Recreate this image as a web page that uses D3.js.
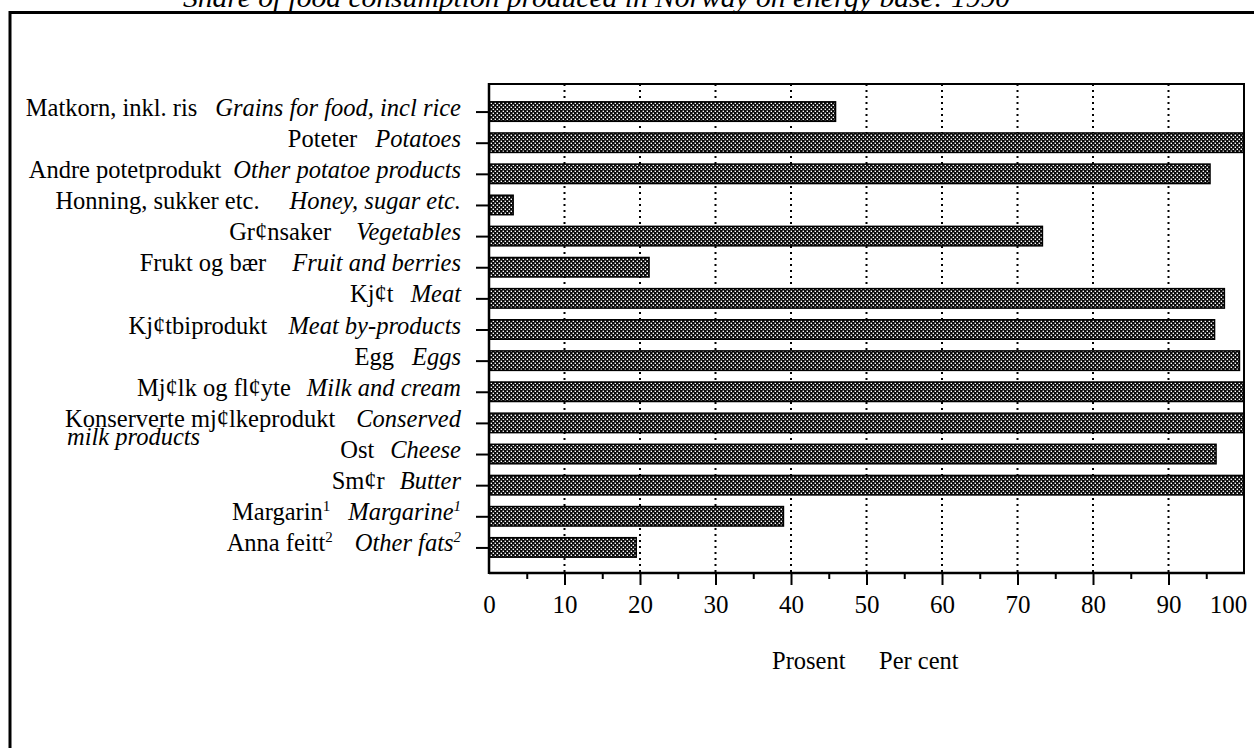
<!DOCTYPE html>
<html><head><meta charset="utf-8">
<script src="https://cdn.jsdelivr.net/npm/d3@7"></script>
<style>
body{margin:0;background:#fff;}
svg{display:block;font-family:"Liberation Serif","Times New Roman",serif;}
</style>
</head><body>
<svg id="c" width="1254" height="748"></svg>
<script>
// ---- data ----
const titleText = "Share of food consumption produced in Norway on energy base:  1990";
const categoriesNo = ["Matkorn, inkl. ris","Poteter","Andre potetprodukt","Honning, sukker etc.","Gr¢nsaker","Frukt og bær","Kj¢t","Kj¢tbiprodukt","Egg","Mj¢lk og fl¢yte","Konserverte mj¢lkeprodukt","Ost","Sm¢r","Margarin","Anna feitt"];
const categoriesEn = ["Grains for food, incl rice","Potatoes","Other potatoe products","Honey, sugar etc.","Vegetables","Fruit and berries","Meat","Meat by-products","Eggs","Milk and cream","Conserved\nmilk products","Cheese","Butter","Margarine","Other fats"];
const footnoteMarks = ["","","","","","","","","","","","","","1","2"];
const values = [45.9,100,95.5,3.2,73.3,21.2,97.4,96.1,99.4,100,100,96.3,100,39.0,19.5];
const xTickValues = [0,10,20,30,40,50,60,70,80,90,100];
const xMinorTicks = [5,15,25,35,45,55,65,75,85,95];
const xAxisLabelNo = "Prosent";
const xAxisLabelEn = "Per cent";

// ---- layout ----
const labelGaps = [18,18,12,30,25,26,17,21,18,16,21,16,15,18,22];
const plot = {left:489, right:1244, top:84, bottom:573};
const svg = d3.select("#c");

const x = d3.scaleLinear().domain([0,100]).range([plot.left, plot.right]);
const y = d3.scaleBand().domain(d3.range(values.length)).range([96,563]).paddingInner(0.374).paddingOuter(0.187);

// pattern
const defs = svg.append("defs");
const pat = defs.append("pattern").attr("id","dots").attr("patternUnits","userSpaceOnUse").attr("width",4).attr("height",4);
pat.append("rect").attr("width",4).attr("height",4).attr("fill","#0a0a0a");
pat.append("rect").attr("x",0.6).attr("y",0.6).attr("width",1.4).attr("height",1.4).attr("fill","#fff");
pat.append("rect").attr("x",2.6).attr("y",2.6).attr("width",1.4).attr("height",1.4).attr("fill","#fff");

// outer frame
svg.append("line").attr("x1",10).attr("x2",1254).attr("y1",12.5).attr("y2",12.5).attr("stroke","#000").attr("stroke-width",3);
svg.append("line").attr("x1",10).attr("x2",10).attr("y1",11).attr("y2",748).attr("stroke","#000").attr("stroke-width",3);

// title (clipped at top)
svg.append("text").attr("x",183).attr("y",7).attr("font-size",28).attr("font-style","italic")
  .attr("textLength",827).attr("lengthAdjust","spacingAndGlyphs").text(titleText);

// gridlines
svg.append("g").selectAll("line").data(xTickValues.filter(d=>d>0&&d<100)).join("line")
  .attr("x1",d=>x(d)).attr("x2",d=>x(d)).attr("y1",plot.top).attr("y2",plot.bottom)
  .attr("stroke","#000").attr("stroke-width",2).attr("stroke-dasharray","2,4");

// bars
svg.append("g").selectAll("rect").data(values).join("rect")
  .attr("x",x(0)).attr("y",(d,i)=>y(i)).attr("width",d=>x(d)-x(0)).attr("height",y.bandwidth())
  .attr("fill","url(#dots)").attr("stroke","#000").attr("stroke-width",1.5);

// plot frame
svg.append("rect").attr("x",plot.left).attr("y",plot.top).attr("width",plot.right-plot.left).attr("height",plot.bottom-plot.top)
  .attr("fill","none").attr("stroke","#000").attr("stroke-width",2);
svg.append("line").attr("x1",plot.left).attr("x2",plot.left).attr("y1",plot.top-1).attr("y2",plot.bottom+1).attr("stroke","#000").attr("stroke-width",2.5);
svg.append("line").attr("x1",plot.left).attr("x2",plot.right+1).attr("y1",plot.bottom).attr("y2",plot.bottom).attr("stroke","#000").attr("stroke-width",2.5);

// y axis ticks
const yAxis = d3.axisLeft(d3.scalePoint().domain(d3.range(values.length)).range([y(0)+y.bandwidth()/2, y(values.length-1)+y.bandwidth()/2]))
  .tickSize(13).tickSizeOuter(0).tickFormat("");
const gy = svg.append("g").attr("transform",`translate(${plot.left},0)`).call(yAxis);
gy.select(".domain").remove();
gy.selectAll(".tick line").attr("stroke","#000").attr("stroke-width",2);

// x axis
const xAxis = d3.axisBottom(x).tickValues(xTickValues).tickSize(12).tickPadding(10).tickSizeOuter(0);
const gx = svg.append("g").attr("transform",`translate(0,${plot.bottom})`).call(xAxis);
gx.select(".domain").remove();
gx.selectAll(".tick line").attr("stroke","#000").attr("stroke-width",2).attr("opacity",d=>(d===0||d===100)?0:1);
gx.selectAll(".tick text").attr("font-size",25).attr("font-family","Liberation Serif").attr("fill","#000")
  .attr("dx",d=>d===100?-16:0);
const xMinor = d3.axisBottom(x).tickValues(xMinorTicks).tickSize(6).tickFormat("").tickSizeOuter(0);
const gxm = svg.append("g").attr("transform",`translate(0,${plot.bottom})`).call(xMinor);
gxm.select(".domain").remove();
gxm.selectAll(".tick line").attr("stroke","#000").attr("stroke-width",2);

// category labels
const lab = svg.append("g").attr("font-size",24.5).attr("fill","#000");
categoriesNo.forEach((no,i)=>{
  const cy = y(i)+y.bandwidth()/2;
  const enLines = categoriesEn[i].split("\n");
  const t = lab.append("text").attr("x",461).attr("y",cy+4).attr("text-anchor","end");
  t.append("tspan").text(no);
  if (footnoteMarks[i]) {
    t.append("tspan").attr("font-size",15).attr("dy",-9).text(footnoteMarks[i]);
    t.append("tspan").attr("dy",9).attr("dx",labelGaps[i]).attr("font-style","italic").text(enLines[0]);
    t.append("tspan").attr("font-size",15).attr("dy",-9).attr("font-style","italic").text(footnoteMarks[i]);
  } else {
    t.append("tspan").attr("dx",labelGaps[i]).attr("font-style","italic").text(enLines[0]);
  }
  if (enLines.length>1) {
    lab.append("text").attr("x",67).attr("y",cy+22).attr("font-style","italic").text(enLines[1]);
  }
});

// x axis title
svg.append("text").attr("x",772).attr("y",669).attr("font-size",24.5).text(xAxisLabelNo);
svg.append("text").attr("x",879).attr("y",669).attr("font-size",24.5).text(xAxisLabelEn);
</script>
</body></html>
